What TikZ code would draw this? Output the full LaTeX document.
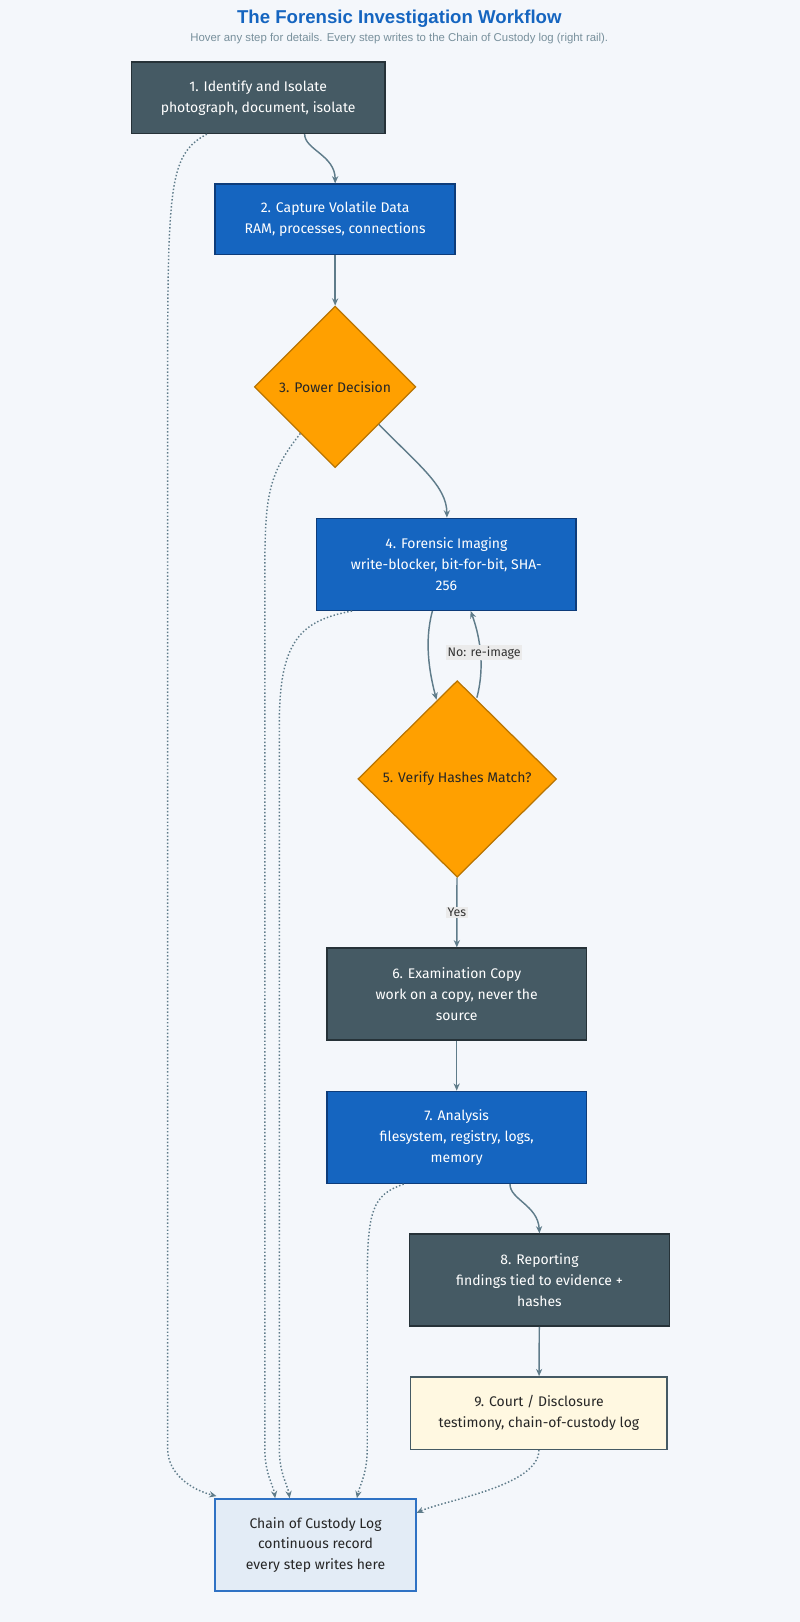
\documentclass[tikz,border=0pt]{standalone}
\usepackage{fontspec}
\setmainfont{Fira Sans}
\newfontfamily\titlefont{Liberation Sans}
\usetikzlibrary{shapes.geometric,arrows.meta,calc}
\definecolor{bgc}{HTML}{F4F7FB}
\definecolor{slate}{HTML}{455A64}
\definecolor{slateb}{HTML}{263238}
\definecolor{blu}{HTML}{1565C0}
\definecolor{blub}{HTML}{0D3C7A}
\definecolor{orng}{HTML}{FFA000}
\definecolor{orngb}{HTML}{B97400}
\definecolor{cream}{HTML}{FFF8E1}
\definecolor{logf}{HTML}{E3ECF6}
\definecolor{logb}{HTML}{2F72C4}
\definecolor{edg}{HTML}{5F7C8A}
\definecolor{ttl}{HTML}{1565C0}
\definecolor{sub}{HTML}{78909C}
\tikzset{
  box/.style={rectangle, draw, line width=1.4pt, minimum width=251pt, minimum height=89pt, align=center, font=\fontsize{13.5}{20}\selectfont, text=white},
  dark/.style={box, fill=slate, draw=slateb},
  blue/.style={box, fill=blu, draw=blub},
  dec/.style={diamond, draw=orngb, fill=orng, line width=1.2pt, inner sep=0pt, font=\fontsize{13.5}{20}\selectfont, text=black!85},
  flow/.style={draw=edg, line width=1.4pt, -{Stealth[length=7pt,width=6pt]}},
  log/.style={draw=edg, line width=1.4pt, dotted, -{Stealth[length=7pt,width=6pt]}},
  elab/.style={fill=black!8, inner sep=1.5pt, font=\fontsize{12}{14}\selectfont, text=black!80}
}
\begin{document}
\begin{tikzpicture}[x=1pt,y=-1pt]
  \fill[bgc] (0,0) rectangle (773,1568);
  \useasboundingbox (0,0) rectangle (773,1568);
  % title
  \node (title) at (386,18) {\titlefont\bfseries\fontsize{18}{20}\selectfont\color{ttl}The Forensic Investigation Workflow};
  \node (subtitle) at (386,37) {\titlefont\fontsize{11}{13}\selectfont\color{sub}Hover any step for details. Every step writes to the Chain of Custody log (right rail).};
  % steps
  \node[dark, minimum width=245pt, minimum height=69pt] (s1) at (249.5,94.5) {1. Identify and Isolate\\photograph, document, isolate};
  \node[blue, minimum width=232pt, minimum height=68pt] (s2) at (324,212) {2. Capture Volatile Data\\RAM, processes, connections};
  \node[dec, minimum width=156pt, minimum height=156pt] (s3) at (324,374) {3. Power Decision};
  \node[blue] (s4) at (431.5,545.5) {4. Forensic Imaging\\write-blocker, bit-for-bit, SHA-\\256};
  \node[dec, minimum width=192pt, minimum height=190pt] (s5) at (442,753) {5. Verify Hashes Match?};
  \node[dark] (s6) at (441.5,961) {6. Examination Copy\\work on a copy, never the\\source};
  \node[blue] (s7) at (441.5,1099.5) {7. Analysis\\filesystem, registry, logs,\\memory};
  \node[dark] (s8) at (521.5,1237.5) {8. Reporting\\findings tied to evidence +\\hashes};
  \node[box, fill=cream, draw=slate, text=black!85, minimum width=248pt, minimum height=70pt] (s9) at (521,1366) {9. Court / Disclosure\\testimony, chain-of-custody log};
  \node[box, fill=logf, draw=logb, text=black!85, minimum width=194pt] (coc) at (305,1493.5) {Chain of Custody Log\\continuous record\\every step writes here};
  % main flow
  \draw[flow] ($(s1.south)+(45,0)$) .. controls +(0,15) and (324,150) .. (s2.north);
  \draw[flow] (s2) -- (s3);
  \draw[flow] ($(s3.south east)+(3,-3)$) .. controls (405,450) and (432,470) .. ($(s4.north)+(0.5,0)$);
  \draw[flow] ($(s4.south)+(-13.5,0)$) .. controls (410,620) and (415,650) .. ($(s5.north)+(-20,19)$);
  \draw[flow] ($(s5.north)+(19,17)$) .. controls (470,640) and (462,610) .. ($(s4.south)+(23.5,0)$);
  \node[elab] (noimg) at (468,631) {No: re-image};
  \draw[flow] (s5) -- node[elab] (yes) {Yes} (s6);
  \draw[flow] (s6) -- (s7);
  \draw[flow] ($(s7.south)+(51.5,0)$) .. controls +(0,15) and (520,1165) .. (s8.north);
  \draw[flow] (s8) -- (s9);
  % custody rail
  \draw[log] ($(s1.south)+(-49.5,0)$) .. controls (162,150) and (162,180) .. (162,400) -- (162,1400) .. controls (162,1425) and (185,1440) .. ($(coc.north west)+(2,-2)$);
  \draw[log] ($(s3.west)+(45,45)$) .. controls (258,460) and (256,480) .. (256,560) -- (256,1400) .. controls (256,1425) and (264,1435) .. ($(coc.north)+(-39,0)$);
  \draw[log] ($(s4.south west)+(35,0)$) .. controls (290,600) and (270,620) .. (270,700) -- (270,1400) .. controls (270,1425) and (278,1435) .. ($(coc.north)+(-25,0)$);
  \draw[log] ($(s7.south west)+(75,0)$) .. controls (360,1155) and (355,1170) .. (355,1240) -- (355,1400) .. controls (355,1425) and (348,1435) .. ($(coc.north)+(40,0)$);
  \draw[log] (s9.south) .. controls +(0,35) and (430,1450) .. ($(coc.east)+(0,-31)$);
\end{tikzpicture}
\end{document}
